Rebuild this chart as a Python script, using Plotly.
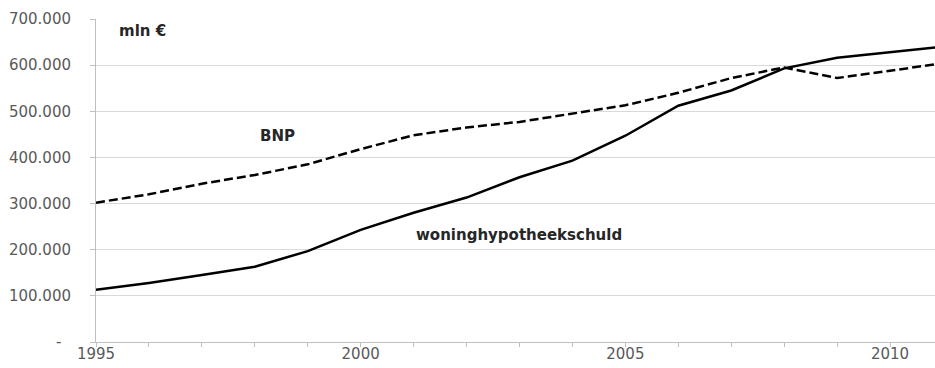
import plotly.graph_objects as go

years = list(range(1995, 2012))
hypotheek = [113000, 128000, 145000, 163000, 197000, 243000, 280000, 313000, 357000,
             393000, 447000, 512000, 545000, 593000, 616000, 628000, 640000]
bnp = [302000, 320000, 343000, 362000, 385000, 418000, 448000, 465000, 477000,
       495000, 513000, 540000, 572000, 595000, 572000, 588000, 604000]

y_ticks = [0, 100000, 200000, 300000, 400000, 500000, 600000, 700000]
y_labels = ["-\u00a0\u00a0", "100.000", "200.000", "300.000", "400.000", "500.000", "600.000", "700.000"]
x_ticks = list(range(1995, 2011))
x_labels = [str(y) if y % 5 == 0 else "" for y in x_ticks]

font_fam = "DejaVu Sans, sans-serif"
grey = "#595959"
dark = "#262626"

fig = go.Figure()
fig.add_trace(go.Scatter(x=years, y=bnp, mode="lines", name="BNP",
                         line=dict(color="black", width=2.5, dash="9px,4px")))
fig.add_trace(go.Scatter(x=years, y=hypotheek, mode="lines", name="woninghypotheekschuld",
                         line=dict(color="black", width=2.5)))

fig.update_layout(
    width=935, height=368,
    margin=dict(l=96, r=0, t=19, b=26, autoexpand=False),
    paper_bgcolor="white", plot_bgcolor="white",
    showlegend=False,
    font=dict(family=font_fam, size=15, color=grey),
    xaxis=dict(range=[1995, 2010.85], tickvals=x_ticks, ticktext=x_labels,
               ticks="outside", ticklen=4, tickcolor="#bfbfbf", showgrid=False,
               ticklabelstandoff=-6,
               showline=True, linecolor="#bfbfbf", linewidth=1, zeroline=False,
               tickfont=dict(size=15, color=grey)),
    yaxis=dict(range=[0, 700000], tickvals=y_ticks, ticktext=y_labels,
               ticks="outside", ticklen=5, tickcolor="#bfbfbf", ticklabelstandoff=16,
               showgrid=True, gridcolor="#d9d9d9", gridwidth=1,
               showline=True, linecolor="#bfbfbf", linewidth=1, zeroline=False,
               tickfont=dict(size=15, color=grey)),
    annotations=[
        dict(x=1995.87, y=674000, text="<b>mln €</b>", showarrow=False, xanchor="center",
             font=dict(size=15, color=dark, family=font_fam)),
        dict(x=1998.43, y=446000, text="<b>BNP</b>", showarrow=False, xanchor="center",
             font=dict(size=15, color=dark, family=font_fam)),
        dict(x=2003.0, y=232000, text="<b>woninghypotheekschuld</b>", showarrow=False, xanchor="center",
             font=dict(size=15, color=dark, family=font_fam)),
    ],
)

fig.write_html("out.html", config={"displayModeBar": False},
               post_script="document.body.style.margin='0';")
